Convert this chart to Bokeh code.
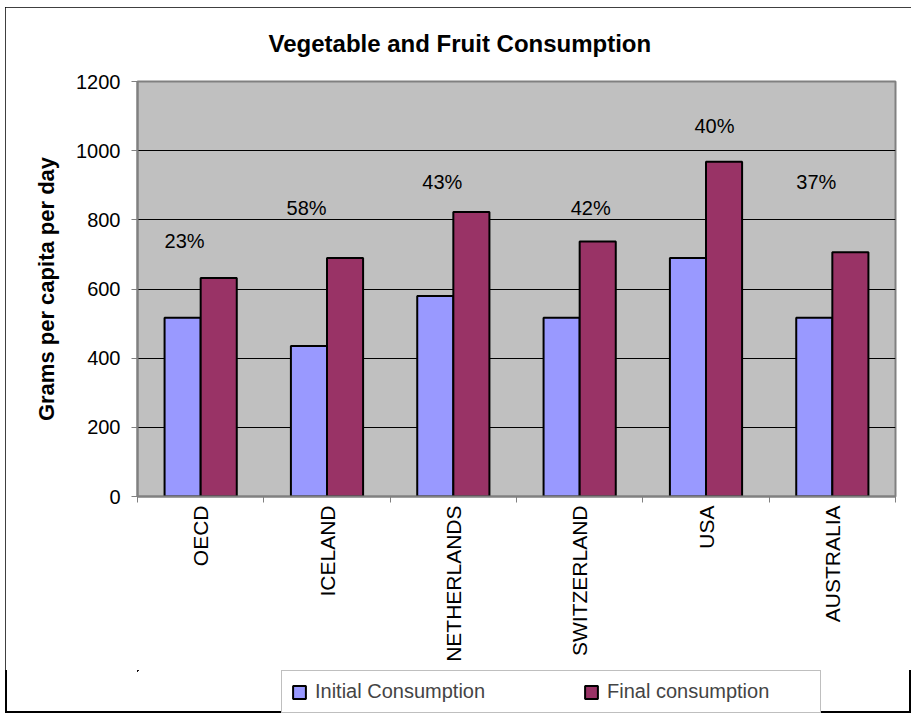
import math
import numpy as np
from bokeh.plotting import figure
from bokeh.layouts import column
from bokeh.models import FixedTicker, Legend, LegendItem, Range1d, ColumnDataSource
from bokeh.core.properties import value
from bokeh.embed import file_html
from bokeh.resources import INLINE

# ---- data ----
categories = ["OECD", "ICELAND", "NETHERLANDS", "SWITZERLAND", "USA", "AUSTRALIA"]
initial_consumption = [517, 435, 580, 517, 690, 517]
final_consumption = [632, 690, 823, 737, 968, 706]
pct_labels = ["23%", "58%", "43%", "42%", "40%", "37%"]
# where each percent note sits (offset from category centre, height in y units)
pct_label_dx = [-0.127, -0.162, -0.087, 0.087, 0.067, -0.127]
pct_label_y = [740, 834, 908, 834, 1071, 909]
y_ticks = [0, 200, 400, 600, 800, 1000, 1200]
series_names = ["Initial Consumption", "Final consumption"]

FONT = "Liberation Sans"
BLUE = "#9999FF"
MAROON = "#993366"
GREY = "#808080"

idx = np.arange(len(categories))
bar_w = 1.0 / 3.5  # Excel gap width 150%

p = figure(
    frame_width=758, frame_height=415,
    min_border_left=132, min_border_right=16,
    min_border_top=74, min_border_bottom=174,
    x_range=Range1d(-0.5, len(categories) - 0.5),
    y_range=Range1d(0, 1200),
    output_backend="svg", toolbar_location=None,
)

p.title.text = "Vegetable and Fruit Consumption"
p.title.align = "left"
p.title.offset = 131
p.title.vertical_align = "top"
p.title.text_font = FONT
p.title.text_font_size = "24px"
p.title.text_font_style = "bold"
p.title.text_color = "black"
p.title.standoff = 45

p.background_fill_color = "#C0C0C0"
p.border_fill_color = "white"
p.outline_line_color = GREY
p.outline_line_width = 2

# bars
src = ColumnDataSource(dict(
    xi=idx - bar_w / 2, xf=idx + bar_w / 2,
    init=initial_consumption, fin=final_consumption,
))
bar_init = dict(fill_color=BLUE, line_color="black", line_width=2)
bar_fin = dict(fill_color=MAROON, line_color="black", line_width=2)
p.vbar(x="xi", top="init", width=bar_w, bottom=0, source=src, **bar_init)
p.vbar(x="xf", top="fin", width=bar_w, bottom=0, source=src, **bar_fin)

# percent notes
lab_src = ColumnDataSource(dict(x=idx + np.array(pct_label_dx), y=pct_label_y, t=pct_labels))
p.text(x="x", y="y", text="t", source=lab_src, text_align="center",
       text_baseline="middle", text_font=value(FONT), text_font_size="20px",
       text_color="black")

# grid
p.xgrid.visible = False
p.ygrid.ticker = FixedTicker(ticks=y_ticks[1:-1])
p.ygrid.grid_line_color = "black"
p.ygrid.grid_line_width = 1

# x axis
xa = p.xaxis[0]
xa.ticker = FixedTicker(ticks=list(idx), minor_ticks=list(np.arange(len(categories) + 1) - 0.5))
xa.major_label_overrides = {int(i): c for i, c in zip(idx, categories)}
xa.major_label_orientation = math.pi / 2
xa.major_tick_out = 0
xa.major_tick_in = 0
xa.minor_tick_out = 6
xa.minor_tick_in = 0
xa.minor_tick_line_color = GREY
xa.minor_tick_line_width = 1
xa.axis_line_color = GREY
xa.axis_line_width = 2
xa.major_label_text_font = FONT
xa.major_label_text_font_size = "21px"
xa.major_label_text_color = "black"
xa.major_label_standoff = 3

# y axis
ya = p.yaxis[0]
ya.ticker = FixedTicker(ticks=y_ticks)
ya.major_tick_out = 6
ya.major_tick_in = 0
ya.minor_tick_line_color = None
ya.major_tick_line_color = GREY
ya.axis_line_color = GREY
ya.axis_line_width = 2
ya.major_label_text_font = FONT
ya.major_label_text_font_size = "20px"
ya.major_label_text_color = "black"
ya.major_label_standoff = 11
ya.axis_label = "Grams per capita per day"
ya.axis_label_text_font = FONT
ya.axis_label_text_font_size = "22px"
ya.axis_label_text_font_style = "bold"
ya.axis_label_text_color = "black"
ya.axis_label_standoff = 14

# legend strip (own small figure, so the legend is not clipped by the plot frame);
# its bars use the same data but lie far outside this strip's ranges, so only the key shows
pl = figure(width=906, height=43, min_border=0, x_axis_location=None, y_axis_location=None,
            x_range=Range1d(1000, 1001), y_range=Range1d(-3000, -2000),
            output_backend="svg", toolbar_location=None)
pl.xgrid.visible = False
pl.ygrid.visible = False
pl.outline_line_color = None
pl.background_fill_alpha = 0
pl.border_fill_alpha = 0
lr_init = pl.vbar(x="xi", top="init", width=bar_w, bottom=0, source=src, **bar_init)
lr_fin = pl.vbar(x="xf", top="fin", width=bar_w, bottom=0, source=src, **bar_fin)

legend = Legend(
    items=[LegendItem(label=series_names[0], renderers=[lr_init]),
           LegendItem(label=series_names[1], renderers=[lr_fin])],
    orientation="horizontal",
    location=(144, 0),
    padding=9, spacing=64, margin=0,
    glyph_width=16, glyph_height=16,
    label_standoff=8, label_width=204,
    label_text_font=FONT, label_text_font_size="20px",
    border_line_color=GREY, border_line_width=1.5,
    background_fill_color="white", background_fill_alpha=1.0,
)
pl.add_layout(legend, "center")

layout = column(p, pl, spacing=0, width=906, height=706)
layout.margin = (7, 0, 0, 5)
layout.styles = {"outline": "2px solid black", "outline-offset": "-2px"}

open("out.html", "w").write(file_html(layout, INLINE))
